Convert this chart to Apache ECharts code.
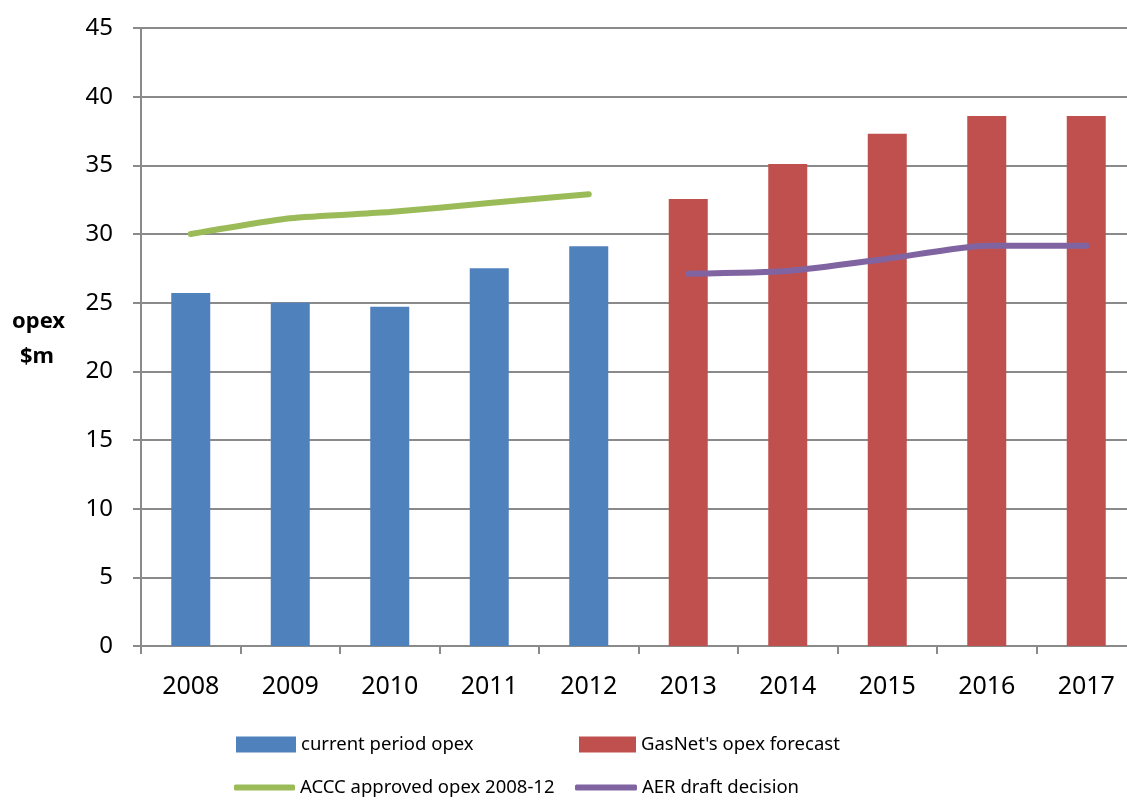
<!DOCTYPE html>
<html>
<head>
<meta charset="utf-8">
<script src="https://cdn.jsdelivr.net/npm/echarts@6/dist/echarts.min.js"></script>
<style>html,body{margin:0;padding:0;background:#fff;overflow:hidden;width:1127px;height:800px}#c{width:1137px;height:800px}</style>
</head>
<body>
<div id="c"></div>
<script>
const years = ['2008','2009','2010','2011','2012','2013','2014','2015','2016','2017'];
const currentOpex = [25.7, 25.0, 24.7, 27.5, 29.1, '-', '-', '-', '-', '-'];
const gasnetForecast = ['-', '-', '-', '-', '-', 32.55, 35.1, 37.3, 38.6, 38.6];
const acccApproved = [30.0, 31.15, 31.6, 32.25, 32.9, '-', '-', '-', '-', '-'];
const aerDraft = ['-', '-', '-', '-', '-', 27.1, 27.3, 28.2, 29.15, 29.15];
const yTicks = {min: 0, max: 45, interval: 5};

const chart = echarts.init(document.getElementById('c'), null, {renderer: 'canvas'});
const font = 'Noto Sans';
const gray = '#8a8a8a';
const legendText = {fontFamily: font, fontSize: 18.5, color: '#000'};
function lg(name, left, top, icon, w, h) {
  return {data: [name], left: left, top: top, padding: 0, icon: icon, itemWidth: w, itemHeight: h,
    textStyle: legendText, selectedMode: false};
}
chart.setOption({
  animation: false,
  grid: {left: 141, right: 1, top: 28, bottom: 154, containLabel: false, outerBoundsMode: 'none'},
  legend: [
    lg('current period opex', 236, 735, 'rect', 60, 16),
    lg("GasNet's opex forecast", 579, 735, 'rect', 57, 16),
    lg('ACCC approved opex 2008-12', 234, 778, 'roundRect', 61, 6),
    lg('AER draft decision', 575, 778, 'roundRect', 62, 6)
  ],
  graphic: [{
    type: 'text', left: 12, top: 311,
    style: {text: 'opex', font: 'bold 22px "Noto Sans"', fill: '#000'}
  }, {
    type: 'text', left: 20, top: 346,
    style: {text: '$m', font: 'bold 22px "Noto Sans"', fill: '#000'}
  }],
  xAxis: {
    type: 'category', data: years, boundaryGap: true,
    axisLine: {lineStyle: {color: gray, width: 2}},
    axisTick: {show: true, length: 8, lineStyle: {color: gray, width: 2}},
    axisLabel: {fontFamily: font, fontSize: 25, color: '#000', margin: 28}
  },
  yAxis: {
    type: 'value', min: yTicks.min, max: yTicks.max, interval: yTicks.interval,
    axisLine: {show: true, lineStyle: {color: gray, width: 2}},
    axisTick: {show: true, length: 8, lineStyle: {color: gray, width: 2}},
    splitLine: {lineStyle: {color: gray, width: 2}},
    axisLabel: {fontFamily: font, fontSize: 24, color: '#000', margin: 28}
  },
  series: [
    {name: 'current period opex', type: 'bar', data: currentOpex, barWidth: 39, barGap: '-100%',
      itemStyle: {color: '#4F81BD'}},
    {name: "GasNet's opex forecast", type: 'bar', data: gasnetForecast, barWidth: 39, barGap: '-100%',
      itemStyle: {color: '#C0504D'}},
    {name: 'ACCC approved opex 2008-12', type: 'line', data: acccApproved, smooth: 0.2, symbol: 'none',
      lineStyle: {color: '#9BBB59', width: 6, cap: 'round'}, itemStyle: {color: '#9BBB59'}},
    {name: 'AER draft decision', type: 'line', data: aerDraft, smooth: 0.2, symbol: 'none',
      lineStyle: {color: '#8064A2', width: 6, cap: 'round'}, itemStyle: {color: '#8064A2'}}
  ]
});
</script>
</body>
</html>
